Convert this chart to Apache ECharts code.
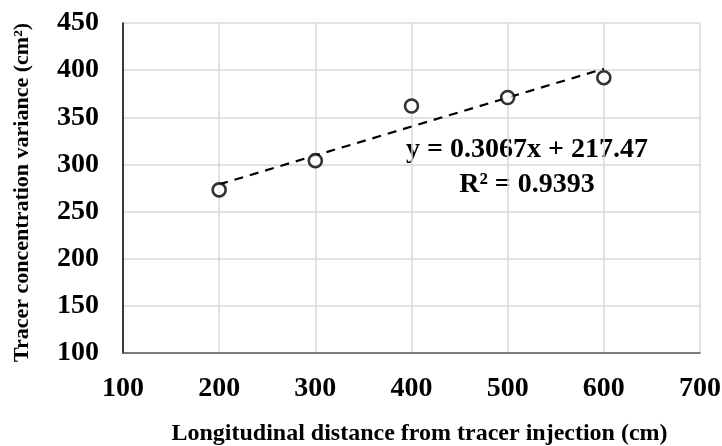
<!DOCTYPE html>
<html>
<head>
<meta charset="utf-8">
<script src="https://cdn.jsdelivr.net/npm/echarts@6/dist/echarts.min.js"></script>
<style>
  html, body { margin: 0; padding: 0; background: #ffffff; }
  #chartScatter { width: 722px; height: 446px; }
</style>
</head>
<body>
<div id="chartScatter"></div>
<script>
// 数据
var distance = [200, 300, 400, 500, 600];
var variance = [273, 304, 362, 371, 392];
// 趋势线 (图中给出的方程)
var slope = 0.3067;
var intercept = 217.47;
var rSquared = 0.9393;
var xTicks = [100, 200, 300, 400, 500, 600, 700];
var yTicks = [100, 150, 200, 250, 300, 350, 400, 450];

var points = distance.map(function (x, i) { return [x, variance[i]]; });
var trend = [distance[0], distance[distance.length - 1]].map(function (x) {
  return [x, slope * x + intercept];
});

var font = '"Liberation Serif", "Times New Roman", serif';

var option = {
  animation: false,
  grid: {
    left: 123,
    right: 22,
    top: 23,
    bottom: 93,
    outerBoundsMode: "none",
  },
  xAxis: {
    type: "value",
    min: xTicks[0],
    max: xTicks[xTicks.length - 1],
    interval: 100,
    name: "Longitudinal distance from tracer injection (cm)",
    nameLocation: "middle",
    nameGap: 69,
    nameTextStyle: {
      fontFamily: font,
      fontWeight: "bold",
      fontSize: 24,
      color: "#000",
      padding: [0, 0, 0, 16],
    },
    axisLine: { show: true, lineStyle: { color: "#595959", width: 1.5 } },
    axisTick: { show: false },
    axisLabel: {
      margin: 22,
      fontFamily: font,
      fontWeight: "bold",
      fontSize: 28,
      color: "#000",
    },
    splitLine: { show: true, lineStyle: { color: "#d9d9d9", width: 1.5 } },
  },
  yAxis: {
    type: "value",
    min: yTicks[0],
    max: yTicks[yTicks.length - 1],
    interval: 50,
    name: "Tracer concentration variance (cm²)",
    nameLocation: "middle",
    nameGap: 90,
    nameRotate: 90,
    nameTextStyle: {
      fontFamily: font,
      fontWeight: "bold",
      fontSize: 22,
      color: "#000",
      padding: [0, 9, 0, 0],
    },
    axisLine: { show: true, lineStyle: { color: "#000", width: 1.5 } },
    axisTick: { show: false },
    axisLabel: {
      margin: 24,
      fontFamily: font,
      fontWeight: "bold",
      fontSize: 28,
      color: "#000",
    },
    splitLine: { show: true, lineStyle: { color: "#d9d9d9", width: 1.5 } },
  },
  series: [
    {
      type: "line",
      data: trend,
      showSymbol: false,
      symbol: "none",
      lineStyle: { color: "#000", width: 2.2, type: [9, 7] },
      z: 2,
    },
    {
      type: "scatter",
      data: points,
      symbol: "circle",
      symbolSize: 13,
      itemStyle: { color: "#fff", borderColor: "#000", borderWidth: 2.6 },
      z: 3,
    },
  ],
  graphic: [
    {
      type: "text",
      x: 527,
      y: 150,
      style: {
        text: "y = " + slope + "x + " + intercept,
        align: "center",
        verticalAlign: "middle",
        fontFamily: font,
        fontWeight: "bold",
        fontSize: 28,
        fill: "#000",
      },
    },
    {
      type: "text",
      x: 527,
      y: 185,
      style: {
        text: "R² = " + rSquared,
        align: "center",
        verticalAlign: "middle",
        fontFamily: font,
        fontWeight: "bold",
        fontSize: 28,
        fill: "#000",
      },
    },
  ],
};

var myChart = echarts.init(document.getElementById("chartScatter"));
myChart.setOption(option);
window.addEventListener("resize", function () {
  myChart.resize();
});
</script>
</body>
</html>
